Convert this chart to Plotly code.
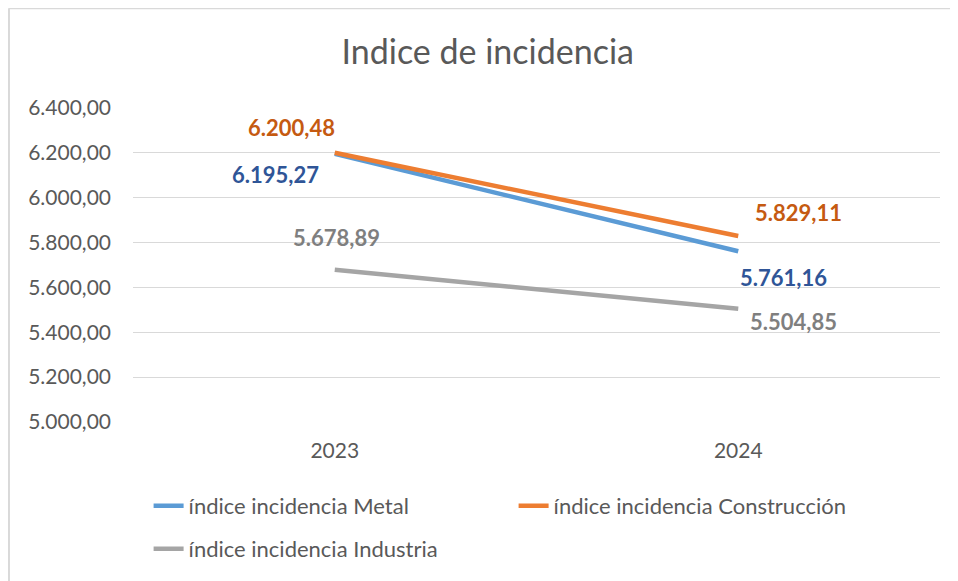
import plotly.graph_objects as go

years = ["2023", "2024"]
metal = [6195.27, 5761.16]
construccion = [6200.48, 5829.11]
industria = [5678.89, 5504.85]

names = ["índice incidencia Metal", "índice incidencia Construcción", "índice incidencia Industria"]
line_colors = ["#5B9BD5", "#ED7D31", "#A5A5A5"]
label_colors = ["#2F5597", "#C55A11", "#7F7F7F"]
legends = ["legend", "legend", "legend2"]

def fmt(v):
    s = f"{v:,.2f}"
    return s.replace(",", "X").replace(".", ",").replace("X", ".")

FONT = "Lato"
fig = go.Figure()
series = [metal, construccion, industria]
for name, vals, c, lg in zip(names, series, line_colors, legends):
    fig.add_trace(go.Scatter(x=years, y=vals, mode="lines", name=name, legend=lg,
                             line=dict(color=c, width=4.5)))

# label offsets (px) per series per point
offsets = [
    [(-59, -21), (45, -26)],
    [(-43, 25), (60, 24)],
    [(2, 32), (55, -13)],
]
for vals, lc, offs in zip(series, label_colors, offsets):
    for i, (v, (dx, dy)) in enumerate(zip(vals, offs)):
        fig.add_annotation(x=i, y=v, xref="x", yref="y", text="<b>" + fmt(v) + "</b>",
                           showarrow=False, xshift=dx, yshift=dy,
                           font=dict(family=FONT, size=22, color=lc))

# outer frame lines
fig.add_shape(type="line", xref="paper", yref="paper", x0=-0.1537, x1=-0.1537, y0=-1, y1=1.318,
              line=dict(color="#D9D9D9", width=2))
fig.add_shape(type="line", xref="paper", yref="paper", x0=-0.1537, x1=1.2, y0=1.318, y1=1.318,
              line=dict(color="#D9D9D9", width=2))

legend_common = dict(orientation="h", xanchor="left", yanchor="top",
                     xref="container", yref="container",
                     entrywidth=320, entrywidthmode="pixels",
                     font=dict(family=FONT, size=22, color="#595959"),
                     bgcolor="rgba(0,0,0,0)")

fig.update_layout(
    width=950, height=573,
    margin=dict(l=125, r=18, t=100, b=159),
    paper_bgcolor="white", plot_bgcolor="white",
    separators=",.",
    font=dict(family=FONT, color="#595959", size=21),
    title=dict(text="Indice de incidencia", x=0.505, xanchor="center", y=0.923, yanchor="middle",
               font=dict(family=FONT, size=34, color="#595959")),
    xaxis=dict(type="category", range=[-0.5, 1.5], showgrid=False, showline=False, ticks="",
               tickfont=dict(size=21, color="#595959"), zeroline=False, ticklabelstandoff=14),
    yaxis=dict(range=[5000, 6400], dtick=200, tickformat=",.2f", showgrid=True,
               gridcolor="#D9D9D9", gridwidth=1, zeroline=False, showline=False,
               tickfont=dict(size=21, color="#595959"), ticks="", ticklabelstandoff=21),
    showlegend=True,
    legend=dict(x=0.148, y=0.1675, **legend_common),
    legend2=dict(x=0.148, y=0.0925, **legend_common),
)
fig.write_html("out.html")
